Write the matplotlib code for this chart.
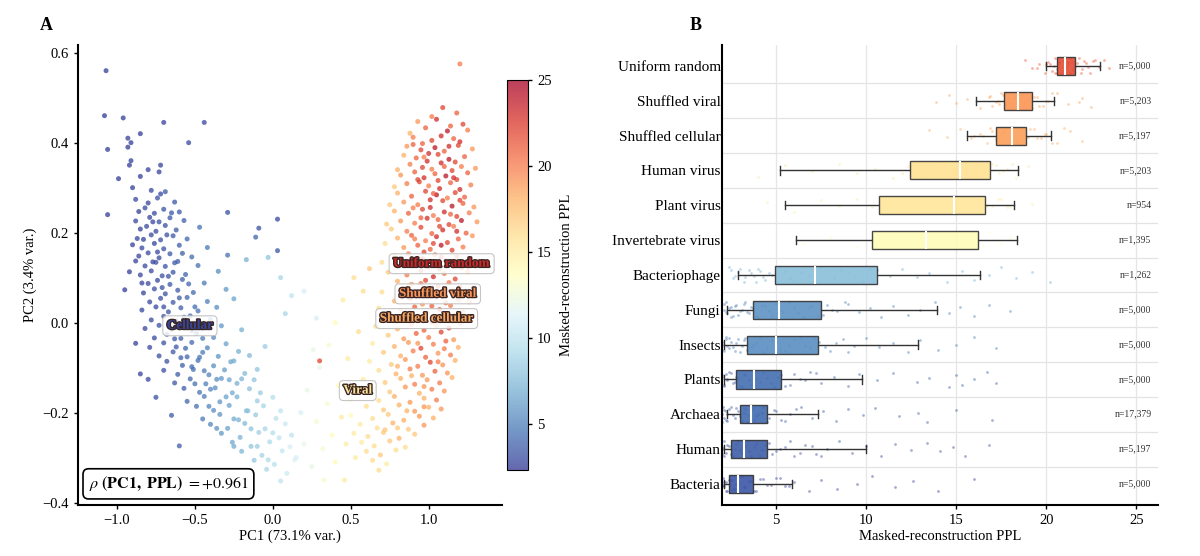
import matplotlib
matplotlib.use("Agg")
import matplotlib.pyplot as plt
import matplotlib.patheffects as pe
from matplotlib.colors import Normalize
import numpy as np

plt.rcParams['font.family'] = ['Liberation Serif', 'DejaVu Serif']
plt.rcParams['mathtext.fontset'] = 'stix'

# ---------------- panel A data: (PC1, PC2, PPL)
outlier_points = [
    (-1.07, 0.56, 2.6), (-1.08, 0.46, 2.5), (-0.96, 0.455, 2.6), (-0.70, 0.445, 2.7),
    (-0.44, 0.445, 3.0), (-0.85, 0.42, 2.6), (-0.93, 0.41, 2.7), (-0.91, 0.40, 2.6),
    (-0.54, 0.40, 3.0), (-0.93, 0.39, 2.6), (-1.06, 0.385, 2.5), (-0.91, 0.36, 2.7),
    (-0.92, 0.35, 2.6), (-0.72, 0.35, 2.8), (-0.80, 0.34, 2.7), (-0.73, 0.335, 2.8),
    (-0.85, 0.325, 2.6), (-0.99, 0.32, 2.5), (-0.90, 0.30, 2.6), (-0.29, 0.245, 3.2),
    (-1.06, 0.24, 2.5), (0.03, 0.23, 3.0), (-0.09, 0.21, 3.3), (-0.11, 0.19, 4.0),
    (0.03, 0.16, 3.5), (-0.29, 0.15, 4.5), (-0.03, 0.145, 8.0), (-0.17, 0.14, 7.0),
]

cellular_points = [
    (-0.78, 0.294, 3.0), (-0.72, 0.286, 3.0), (-0.69, 0.291, 3.5),
    (-0.88, 0.274, 3.0), (-0.80, 0.266, 2.8), (-0.74, 0.277, 3.2), (-0.63, 0.268, 3.5),
    (-0.86, 0.247, 2.6), (-0.82, 0.255, 3.0), (-0.76, 0.243, 3.0), (-0.70, 0.252, 3.3), (-0.60, 0.246, 3.6),
    (-0.88, 0.226, 3.0), (-0.79, 0.234, 2.8), (-0.73, 0.224, 3.1), (-0.66, 0.233, 3.4), (-0.57, 0.227, 3.8),
    (-0.85, 0.208, 2.7), (-0.81, 0.214, 3.0), (-0.75, 0.203, 3.0), (-0.69, 0.216, 3.2), (-0.62, 0.206, 3.6),
    (-0.47, 0.212, 4.5), (-0.87, 0.187, 2.9), (-0.78, 0.195, 3.0), (-0.72, 0.184, 3.1), (-0.64, 0.193, 3.5),
    (-0.55, 0.186, 4.0), (-0.90, 0.173, 2.7), (-0.84, 0.166, 3.0), (-0.76, 0.176, 2.8), (-0.70, 0.164, 3.2),
    (-0.60, 0.172, 3.7), (-0.42, 0.167, 4.8), (-0.86, 0.148, 2.8), (-0.80, 0.155, 3.0), (-0.73, 0.144, 3.0),
    (-0.66, 0.153, 3.4), (-0.52, 0.146, 4.2), (-0.82, 0.126, 3.0), (-0.75, 0.134, 3.1), (-0.69, 0.125, 3.3),
    (-0.61, 0.136, 3.6), (-0.48, 0.127, 4.5), (-0.92, 0.113, 2.6), (-0.85, 0.106, 2.9), (-0.78, 0.115, 3.0),
    (-0.71, 0.104, 3.2), (-0.64, 0.112, 3.4), (-0.56, 0.107, 3.9), (-0.35, 0.114, 5.5), (-0.80, 0.087, 3.0),
    (-0.74, 0.094, 3.0), (-0.66, 0.085, 3.5), (-0.58, 0.096, 3.8), (-0.44, 0.088, 4.8), (-0.95, 0.073, 2.5),
    (-0.83, 0.066, 2.8), (-0.76, 0.075, 3.1), (-0.69, 0.064, 3.3), (-0.61, 0.072, 3.6), (-0.51, 0.067, 4.2),
    (-0.30, 0.074, 6.0), (-0.79, 0.046, 3.0), (-0.72, 0.054, 3.1), (-0.64, 0.045, 3.5), (-0.55, 0.056, 4.0),
    (-0.42, 0.047, 5.0), (-0.25, 0.053, 6.5), (-0.84, 0.028, 2.9), (-0.75, 0.035, 3.0), (-0.67, 0.024, 3.4),
    (-0.59, 0.033, 3.7), (-0.48, 0.026, 4.5), (-0.36, 0.034, 5.5), (-0.78, 0.006, 3.0), (-0.70, 0.014, 3.2),
    (-0.62, 0.004, 3.6), (-0.53, 0.015, 4.1), (-0.40, 0.007, 5.2), (-0.82, -0.013, 2.9), (-0.73, -0.006, 3.1),
    (-0.65, -0.015, 3.4), (-0.56, -0.004, 3.9), (-0.46, -0.014, 4.6), (-0.33, -0.007, 6.0), (-0.20, -0.016, 7.0),
    (-0.76, -0.034, 3.0), (-0.68, -0.026, 3.3), (-0.59, -0.035, 3.7), (-0.49, -0.024, 4.3), (-0.38, -0.033, 5.4),
    (-0.88, -0.046, 2.7), (-0.79, -0.055, 3.0), (-0.70, -0.045, 3.2), (-0.62, -0.054, 3.5), (-0.52, -0.044, 4.1),
    (-0.42, -0.056, 5.0), (-0.30, -0.047, 6.3), (-0.05, -0.053, 8.5), (-0.73, -0.074, 3.1), (-0.64, -0.065, 3.5),
    (-0.55, -0.076, 4.0), (-0.45, -0.066, 4.8), (-0.35, -0.075, 5.8), (-0.22, -0.064, 7.0), (-0.15, -0.073, 7.5),
    (-0.68, -0.086, 3.3), (-0.58, -0.095, 3.8), (-0.48, -0.084, 4.5), (-0.38, -0.096, 5.5), (-0.27, -0.087, 6.5),
    (-0.85, -0.114, 2.8), (-0.70, -0.106, 3.2), (-0.61, -0.115, 3.6), (-0.51, -0.104, 4.3), (-0.41, -0.116, 5.2),
    (-0.31, -0.105, 6.2), (-0.18, -0.113, 7.5), (-0.10, -0.104, 8.0), (-0.80, -0.126, 3.0), (-0.63, -0.134, 3.5),
    (-0.53, -0.125, 4.1), (-0.43, -0.136, 5.0), (-0.33, -0.124, 6.0), (-0.23, -0.135, 7.0), (-0.12, -0.127, 8.0),
    (-0.57, -0.146, 3.8), (-0.47, -0.155, 4.6), (-0.37, -0.145, 5.6), (-0.26, -0.156, 6.7), (-0.15, -0.147, 7.8),
    (-0.75, -0.166, 3.2), (-0.55, -0.175, 4.0), (-0.44, -0.164, 4.9), (-0.34, -0.176, 5.9), (-0.23, -0.165, 7.0),
    (-0.10, -0.174, 8.5), (0.00, -0.166, 9.5), (-0.49, -0.186, 4.4), (-0.38, -0.195, 5.5), (-0.28, -0.184, 6.4),
    (-0.17, -0.196, 7.6), (-0.06, -0.185, 9.0), (-0.65, -0.206, 3.6), (-0.45, -0.214, 4.8), (-0.34, -0.204, 5.9),
    (-0.22, -0.216, 7.1), (-0.11, -0.205, 8.3), (0.02, -0.213, 9.8), (0.05, -0.196, 10.0), (-0.40, -0.226, 5.3),
    (-0.29, -0.235, 6.3), (-0.18, -0.224, 7.5), (-0.05, -0.236, 9.0), (0.08, -0.225, 10.5), (-0.33, -0.246, 6.0),
    (-0.21, -0.255, 7.2), (-0.09, -0.244, 8.6), (0.04, -0.256, 10.0), (-0.60, -0.274, 3.7), (-0.26, -0.266, 6.7),
    (-0.14, -0.275, 8.0), (-0.02, -0.265, 9.3), (0.11, -0.276, 11.0), (-0.20, -0.286, 7.3), (-0.07, -0.295, 8.8),
    (0.06, -0.285, 10.2), (-0.12, -0.306, 8.2), (0.01, -0.315, 9.6), (0.14, -0.305, 11.3), (-0.04, -0.326, 9.1),
    (0.09, -0.335, 10.6), (0.05, -0.352, 10.0),
    (-0.77, 0.224, 2.9), (-0.68, 0.195, 3.2), (-0.83, 0.185, 2.8), (-0.74, 0.157, 3.0), (-0.63, 0.133, 3.5),
    (-0.77, 0.135, 2.9), (-0.67, 0.103, 3.3), (-0.71, 0.078, 3.2), (-0.60, 0.055, 3.7), (-0.70, 0.035, 3.2),
    (-0.57, 0.012, 3.8), (-0.66, -0.005, 3.4), (-0.52, -0.018, 4.2), (-0.63, -0.036, 3.5), (-0.56, -0.057, 4.0),
    (-0.47, -0.077, 4.6), (-0.59, -0.078, 3.8), (-0.52, -0.098, 4.2), (-0.44, -0.107, 4.9), (-0.40, -0.148, 5.3),
    (-0.50, -0.136, 4.4), (-0.30, -0.165, 6.3), (-0.41, -0.186, 5.2), (-0.25, -0.214, 6.8), (-0.36, -0.235, 5.7),
    (-0.14, -0.236, 8.0), (-0.25, -0.275, 6.8), (-0.10, -0.275, 8.5), (-0.03, -0.305, 9.3), (0.00, -0.245, 9.5),
    (-0.16, -0.196, 7.8), (-0.08, -0.156, 8.5), (-0.20, -0.125, 7.3), (-0.36, -0.126, 5.6), (-0.28, -0.127, 6.5),
    (-0.25, -0.085, 6.8), (-0.45, -0.035, 4.8), (-0.50, 0.035, 4.3), (-0.54, 0.086, 4.0), (-0.58, 0.154, 3.8),
    (-0.65, 0.244, 3.4), (-0.84, 0.088, 2.8), (-0.88, 0.137, 2.7),
]

viral_points = [
    (0.62, 0.12, 17.0), (0.05, 0.10, 9.0), (0.52, 0.10, 16.0), (0.20, 0.07, 11.0), (0.58, 0.07, 16.0),
    (0.12, 0.06, 10.0), (0.45, 0.05, 15.0), (0.08, 0.02, 9.0), (0.28, 0.01, 11.0), (0.40, 0.00, 14.0),
    (0.55, -0.02, 16.0), (0.36, -0.05, 13.0), (0.26, -0.06, 12.0), (0.30, -0.085, 22.0), (0.48, -0.08, 15.0),
    (0.30, -0.10, 12.0), (0.42, -0.14, 14.0), (0.22, -0.15, 12.0), (0.50, -0.17, 15.0), (0.35, -0.18, 13.0),
    (0.18, -0.20, 11.0), (0.44, -0.21, 15.0), (0.28, -0.22, 13.0), (0.12, -0.25, 10.0), (0.38, -0.25, 14.0),
    (0.20, -0.27, 12.0), (0.47, -0.27, 15.0), (0.32, -0.28, 13.0), (0.15, -0.30, 11.0), (0.53, -0.30, 15.0),
    (0.40, -0.31, 14.0), (0.25, -0.32, 12.0), (0.33, -0.35, 13.0), (0.46, -0.35, 15.0),
]

random_points = [
    (1.20, 0.575, 20), (1.09, 0.478, 22), (1.18, 0.466, 21), (1.02, 0.458, 20),
    (0.93, 0.447, 19), (1.05, 0.452, 23), (1.22, 0.441, 22), (1.14, 0.437, 21),
    (0.98, 0.433, 21), (1.12, 0.426, 24), (1.25, 0.428, 20), (0.88, 0.421, 18),
    (0.90, 0.412, 20), (1.02, 0.405, 22), (1.08, 0.415, 23), (1.16, 0.409, 21), (1.20, 0.402, 23), (0.96, 0.398, 21),
    (0.86, 0.392, 19), (0.95, 0.384, 22), (1.04, 0.389, 24), (1.10, 0.381, 21), (1.19, 0.394, 22), (1.28, 0.386, 19),
    (1.00, 0.376, 23), (0.84, 0.372, 18), (0.92, 0.366, 21), (0.99, 0.359, 23), (1.06, 0.374, 22), (1.13, 0.363, 24),
    (1.23, 0.369, 21), (1.17, 0.357, 22), (0.88, 0.352, 20), (0.96, 0.345, 22), (1.02, 0.341, 20), (1.08, 0.355, 23),
    (1.15, 0.338, 22), (1.21, 0.347, 20), (1.30, 0.343, 19), (0.80, 0.340, 18), (0.82, 0.328, 19), (0.91, 0.335, 21),
    (0.97, 0.322, 23), (1.04, 0.331, 21), (1.11, 0.326, 24), (1.18, 0.318, 22), (1.25, 0.333, 21), (1.06, 0.316, 22),
    (0.86, 0.309, 20), (0.94, 0.313, 22), (1.00, 0.304, 20), (1.07, 0.298, 23), (1.14, 0.311, 21), (1.20, 0.296, 23),
    (1.27, 0.306, 20), (0.78, 0.302, 17), (0.80, 0.288, 18), (0.89, 0.281, 21), (0.98, 0.292, 22), (1.05, 0.284, 24),
    (1.12, 0.277, 20), (1.17, 0.289, 22), (1.23, 0.279, 21), (1.01, 0.273, 23), (0.84, 0.268, 19), (0.93, 0.262, 20),
    (1.01, 0.256, 23), (1.09, 0.271, 22), (1.15, 0.259, 24), (1.22, 0.265, 21), (1.29, 0.257, 19), (0.75, 0.262, 17),
    (0.78, 0.248, 18), (0.87, 0.243, 21), (0.96, 0.252, 22), (1.03, 0.238, 20), (1.10, 0.246, 23), (1.18, 0.236, 22),
    (1.26, 0.244, 20), (1.06, 0.229, 21), (0.82, 0.226, 19), (0.91, 0.221, 20), (0.99, 0.232, 23), (1.13, 0.218, 22),
    (1.21, 0.227, 24), (0.73, 0.219, 17), (1.31, 0.224, 19), (0.76, 0.208, 17), (0.86, 0.203, 20), (0.95, 0.212, 22),
    (1.02, 0.198, 21), (1.09, 0.206, 23), (1.16, 0.214, 20), (1.24, 0.199, 21), (0.80, 0.188, 18), (0.89, 0.194, 21),
    (0.98, 0.182, 20), (1.05, 0.191, 23), (1.12, 0.178, 22), (1.19, 0.186, 21), (1.28, 0.193, 19), (0.93, 0.172, 21),
    (0.84, 0.167, 19), (1.01, 0.163, 21), (1.08, 0.172, 24), (1.15, 0.161, 22), (1.22, 0.168, 20), (0.72, 0.176, 16),
    (0.97, 0.157, 22), (0.78, 0.148, 18), (0.87, 0.153, 20), (0.96, 0.142, 23), (1.04, 0.151, 20), (1.11, 0.138, 22),
    (1.18, 0.147, 21), (1.26, 0.141, 20), (0.82, 0.128, 19), (0.91, 0.133, 21), (1.00, 0.124, 22), (1.07, 0.119, 21),
    (1.14, 0.131, 23), (1.21, 0.122, 21), (0.70, 0.134, 16), (0.74, 0.112, 17), (0.86, 0.106, 20), (0.95, 0.115, 21),
    (1.03, 0.102, 23), (1.10, 0.109, 20), (1.17, 0.097, 22), (1.25, 0.113, 19), (0.80, 0.092, 18), (0.89, 0.085, 19),
    (0.98, 0.094, 22), (1.06, 0.081, 21), (1.13, 0.089, 20), (1.20, 0.078, 22), (0.70, 0.068, 16), (0.84, 0.074, 19),
    (0.93, 0.063, 21), (1.01, 0.072, 20), (1.08, 0.059, 22), (1.16, 0.066, 21), (0.78, 0.048, 18), (0.88, 0.053, 20),
    (0.96, 0.041, 19), (1.04, 0.057, 22), (1.11, 0.044, 21), (1.19, 0.051, 20), (1.26, 0.046, 18), (0.68, 0.032, 16),
    (0.82, 0.026, 18), (0.91, 0.035, 21), (0.99, 0.021, 19), (1.07, 0.029, 22), (1.14, 0.038, 20), (1.22, 0.024, 19),
    (0.76, 0.012, 17), (0.86, 0.004, 19), (0.94, 0.015, 20), (1.02, 0.001, 22), (1.10, 0.009, 19), (1.17, 0.017, 21),
    (0.66, -0.008, 16), (0.80, -0.014, 18), (0.89, -0.004, 20), (0.97, -0.017, 21), (1.05, -0.006, 19), (1.13, -0.012, 22),
    (1.20, -0.002, 20), (0.74, -0.028, 17), (0.84, -0.036, 19), (0.92, -0.024, 21), (1.00, -0.033, 20), (1.08, -0.021, 22),
    (1.16, -0.038, 19), (0.64, -0.046, 15), (0.78, -0.053, 18), (0.87, -0.044, 19), (0.95, -0.057, 22), (1.03, -0.048, 20),
    (1.11, -0.041, 21), (1.19, -0.055, 18), (0.71, -0.066, 17), (0.82, -0.074, 18), (0.90, -0.063, 20), (0.98, -0.077, 21),
    (1.06, -0.068, 19), (1.14, -0.072, 20), (0.62, -0.086, 15), (0.76, -0.093, 17), (0.85, -0.082, 19), (0.93, -0.097, 20),
    (1.01, -0.088, 22), (1.09, -0.094, 19), (1.17, -0.084, 18), (0.68, -0.106, 16), (0.79, -0.114, 18), (0.88, -0.103, 20),
    (0.96, -0.117, 19), (1.04, -0.108, 21), (1.12, -0.112, 19), (0.58, -0.126, 15), (0.72, -0.133, 17), (0.82, -0.124, 18),
    (0.91, -0.137, 20), (0.99, -0.127, 19), (1.07, -0.134, 20), (1.15, -0.122, 18), (0.64, -0.146, 16), (0.75, -0.154, 17),
    (0.85, -0.143, 19), (0.94, -0.157, 18), (1.02, -0.148, 20), (1.10, -0.152, 19), (0.54, -0.166, 14), (0.68, -0.173, 16),
    (0.78, -0.164, 18), (0.88, -0.177, 19), (0.97, -0.168, 18), (1.05, -0.172, 20), (0.60, -0.186, 16), (0.71, -0.194, 17),
    (0.81, -0.183, 18), (0.91, -0.197, 19), (1.00, -0.188, 18), (1.08, -0.192, 19), (0.50, -0.206, 14), (0.64, -0.213, 16),
    (0.74, -0.204, 17), (0.84, -0.217, 18), (0.94, -0.208, 19), (1.03, -0.212, 18), (0.56, -0.226, 15), (0.67, -0.234, 16),
    (0.77, -0.223, 18), (0.87, -0.237, 17), (0.97, -0.228, 19), (0.52, -0.246, 15), (0.61, -0.253, 16), (0.71, -0.244, 17),
    (0.81, -0.257, 18), (0.91, -0.248, 17), (0.57, -0.266, 15), (0.65, -0.274, 16), (0.75, -0.263, 17), (0.85, -0.277, 16),
    (0.60, -0.286, 16), (0.69, -0.294, 17), (0.79, -0.283, 16), (0.64, -0.306, 16), (0.73, -0.314, 15), (0.68, -0.328, 16),
    (0.90, 0.396, 21), (1.13, 0.392, 23), (0.97, 0.368, 20), (1.10, 0.347, 21), (0.93, 0.318, 22), (1.16, 0.322, 23),
    (1.03, 0.287, 21), (1.20, 0.272, 22), (0.90, 0.255, 20), (1.14, 0.241, 21), (0.95, 0.233, 21), (1.07, 0.214, 22),
    (0.91, 0.186, 20), (1.18, 0.203, 23), (1.03, 0.176, 22), (0.89, 0.138, 19), (1.08, 0.146, 22), (0.95, 0.087, 20),
    (1.17, 0.124, 20), (1.02, 0.037, 21), (0.87, 0.016, 19), (1.13, 0.003, 20), (0.93, -0.046, 19), (1.06, -0.087, 20),
    (0.89, -0.118, 18), (1.10, -0.058, 20), (0.80, -0.097, 18), (0.97, -0.142, 19), (0.86, -0.196, 18), (0.72, -0.238, 17),
    (0.97, -0.187, 19), (0.80, -0.234, 17),
]

cluster_names = ["Uniform random", "Shuffled viral", "Shuffled cellular", "Cellular", "Viral"]
cluster_pc1 = [1.083, 1.058, 0.987, -0.532, 0.545]
cluster_pc2 = [0.131, 0.064, 0.009, -0.007, -0.151]
cluster_ppl = [23.0, 19.0, 18.3, 3.0, 15.5]
rho_text = r'$\rho\ \mathbf{(PC1,\ PPL)}\ = +0.961$'

# ---------------- panel B data (top to bottom)
groups = ["Uniform random", "Shuffled viral", "Shuffled cellular", "Human virus",
          "Plant virus", "Invertebrate virus", "Bacteriophage", "Fungi", "Insects",
          "Plants", "Archaea", "Human", "Bacteria"]
n_labels = ["n=5,000", "n=5,203", "n=5,197", "n=5,203", "n=954", "n=1,395",
            "n=1,262", "n=5,000", "n=5,000", "n=5,000", "n=17,379", "n=5,197", "n=5,000"]
whislo = [20.0, 16.1, 15.6, 5.2, 5.5, 6.1, 2.9, 2.3, 2.1, 2.1, 2.3, 2.1, 2.1]
q1 = [20.6, 17.65, 17.2, 12.45, 10.7, 10.3, 4.96, 3.7, 3.4, 2.8, 3.0, 2.5, 2.4]
med = [21.06, 18.45, 18.1, 15.2, 14.9, 13.3, 7.15, 5.17, 5.0, 3.8, 3.6, 3.2, 2.9]
q3 = [21.6, 19.2, 18.9, 16.9, 16.6, 16.2, 10.6, 7.5, 7.35, 5.25, 4.5, 4.5, 3.7]
whishi = [23.0, 20.45, 20.25, 18.45, 18.2, 18.4, 16.3, 13.95, 12.9, 9.75, 7.3, 10.0, 5.9]

strip_values = [
    [18.8, 19.2, 19.6, 19.9, 20.1, 20.3, 20.4, 20.5, 20.6, 20.7, 20.8, 20.9, 21.0, 21.0,
     21.1, 21.2, 21.3, 21.4, 21.5, 21.6, 21.8, 22.0, 22.2, 22.4, 22.6, 22.9, 23.2, 23.5,
     20.2, 20.5, 20.7, 20.9, 21.1, 21.3, 21.5, 21.7, 21.9, 22.1, 22.3, 22.7, 19.5, 20.0, 20.6, 21.2],
    [13.9, 14.6, 15.0, 15.6, 16.3, 16.8, 17.0, 17.3, 17.5, 17.7, 17.9, 18.1, 18.3, 18.4,
     18.6, 18.8, 19.0, 19.2, 19.5, 19.8, 20.1, 20.6, 21.2, 22.0, 22.5,
     16.9, 17.2, 17.6, 18.0, 18.5, 18.9, 19.3, 19.6, 20.0, 20.3, 17.4, 18.2, 18.7, 19.1, 21.8],
    [13.5, 14.5, 15.2, 15.8, 16.3, 16.7, 17.0, 17.3, 17.5, 17.8, 18.0, 18.2, 18.4, 18.7,
     19.0, 19.3, 19.7, 20.0, 20.6, 21.3, 22.0,
     16.5, 16.9, 17.2, 17.6, 18.1, 18.5, 18.9, 19.1, 19.5, 19.9, 20.3, 17.7, 18.3, 16.0, 21.0],
    [4.0, 5.5, 7.0, 8.5, 9.5, 10.5, 11.5, 12.3, 13.0, 13.6, 14.2, 14.8, 15.3, 15.8, 16.2,
     16.6, 17.0, 17.4, 17.8, 18.3, 19.0, 13.3, 14.5, 15.5, 16.0, 16.4, 16.8, 17.2, 17.6, 18.1, 12.0],
    [4.5, 6.0, 7.5, 8.5, 9.5, 10.3, 11.0, 11.8, 12.5, 13.2, 13.8, 14.5, 15.0, 15.6, 16.1,
     16.5, 17.0, 17.5, 18.0, 19.2, 10.8, 11.4, 12.2, 13.5, 14.2, 14.8, 15.3, 15.9, 16.3, 16.7, 17.3, 17.8],
    [6.5, 8.0, 9.5, 10.5, 11.2, 12.0, 12.8, 13.5, 14.2, 15.0, 15.6, 16.2, 16.8, 17.5, 18.0,
     10.8, 11.6, 12.4, 13.1, 13.8, 14.6, 15.3, 15.9, 16.5, 17.2],
    [2.4, 2.6, 2.9, 3.2, 3.5, 3.8, 4.0, 4.3, 4.6, 5.0, 5.5, 6.0, 6.8, 7.5, 8.2, 9.0, 9.8,
     10.6, 11.3, 12.0, 12.8, 13.5, 14.5, 15.3, 16.0, 16.8, 17.5, 18.3, 19.2, 20.2,
     2.5, 2.7, 3.0, 3.3, 3.6, 3.9, 4.1, 4.4, 4.8, 5.2, 5.8, 6.4, 7.1, 8.6, 9.4, 10.2],
    [2.1, 2.2, 2.3, 2.5, 2.6, 2.8, 3.0, 3.2, 3.4, 3.7, 4.0, 4.4, 4.8, 5.2, 5.7, 6.2, 6.8,
     7.3, 7.8, 8.4, 9.0, 9.6, 10.2, 10.8, 11.5, 12.3, 13.0, 13.8, 14.6, 15.2, 16.0, 16.8, 18.0,
     2.1, 2.2, 2.4, 2.5, 2.7, 2.9, 3.1, 3.3, 3.5, 3.6, 3.9, 4.2, 4.6, 5.0, 5.4, 6.0, 6.5, 7.0, 7.6, 8.1, 8.8],
    [2.0, 2.1, 2.2, 2.4, 2.5, 2.7, 2.9, 3.1, 3.3, 3.6, 3.9, 4.3, 4.8, 5.2, 5.7, 6.3, 6.9,
     7.4, 8.0, 8.7, 9.3, 10.0, 10.7, 11.5, 12.3, 13.0, 14.0, 15.0, 16.0, 17.2,
     2.0, 2.1, 2.2, 2.3, 2.4, 2.6, 2.8, 3.0, 3.2, 3.4, 3.7, 4.1, 4.5, 5.0, 5.5, 6.0, 6.6, 7.1, 7.7, 8.3, 9.0],
    [2.0, 2.1, 2.3, 2.4, 2.6, 2.8, 3.0, 3.2, 3.5, 3.8, 4.1, 4.5, 4.9, 5.3, 5.8, 6.3, 6.9,
     7.5, 8.2, 9.0, 9.6, 10.6, 11.5, 12.8, 13.5, 14.6, 15.0, 15.3, 16.0, 16.7, 17.2,
     2.0, 2.1, 2.2, 2.3, 2.5, 2.7, 2.9, 3.1, 3.3, 3.6, 3.9, 4.3, 4.7, 5.1, 5.5, 6.0, 6.6, 7.2],
    [2.0, 2.1, 2.2, 2.3, 2.5, 2.7, 2.9, 3.1, 3.3, 3.5, 3.7, 3.9, 4.2, 4.5, 4.9, 5.3, 5.8,
     6.4, 7.0, 7.6, 8.3, 9.0, 9.8, 10.5, 11.8, 12.9, 13.4, 15.0, 17.0,
     2.0, 2.05, 2.1, 2.2, 2.3, 2.4, 2.6, 2.8, 3.0, 3.2, 3.4, 3.6, 3.8, 4.0, 4.3, 4.6, 5.0, 5.5, 6.1],
    [2.0, 2.1, 2.3, 2.5, 2.7, 2.9, 3.1, 3.3, 3.6, 3.9, 4.2, 4.6, 5.0, 5.5, 6.0, 6.6, 7.2,
     7.8, 8.5, 9.2, 10.0, 10.8, 11.6, 12.5, 13.4, 14.1, 14.8, 15.5, 16.8,
     2.0, 2.05, 2.1, 2.2, 2.4, 2.6, 2.8, 3.0, 3.2, 3.5, 3.8, 4.1, 4.4, 4.8, 5.2, 5.8, 6.3, 7.0, 7.5],
    [2.0, 2.1, 2.2, 2.4, 2.6, 2.8, 3.0, 3.2, 3.5, 3.8, 4.1, 4.5, 5.0, 5.5, 6.0, 6.8, 7.5,
     8.4, 9.5, 10.3, 11.6, 12.6, 14.0, 16.0,
     2.0, 2.05, 2.1, 2.2, 2.3, 2.5, 2.7, 2.9, 3.1, 3.3, 3.6, 3.9, 4.3, 4.7, 5.2, 5.7],
]

# ---------------------------------------------------------------------------
cmap = plt.get_cmap('RdYlBu_r')
norm = Normalize(vmin=2.3, vmax=25)

all_points = outlier_points + cellular_points + viral_points + random_points
pc1 = [p[0] for p in all_points]
pc2 = [p[1] for p in all_points]
ppl = [p[2] for p in all_points]

fig = plt.figure(figsize=(12, 5.56), dpi=100, facecolor='white')

# ---------------- panel A
axA = fig.add_axes([0.065, 0.092, 0.3533, 0.827])
sc = axA.scatter(pc1, pc2, c=ppl, cmap=cmap, norm=norm, s=13, alpha=0.75, linewidths=0)
axA.set_xlim(-1.25, 1.47)
axA.set_ylim(-0.405, 0.617)
axA.set_xticks([-1.0, -0.5, 0.0, 0.5, 1.0])
axA.set_yticks([-0.4, -0.2, 0.0, 0.2, 0.4, 0.6])
axA.set_xlabel('PC1 (73.1% var.)', fontsize=10.5, labelpad=2)
axA.set_ylabel('PC2 (3.4% var.)', fontsize=10.5, labelpad=4)
axA.tick_params(labelsize=10.5, width=1, length=3)
for s in ('top', 'right'):
    axA.spines[s].set_visible(False)
for s in ('left', 'bottom'):
    axA.spines[s].set_linewidth(1.5)

for name, x, y, v in zip(cluster_names, cluster_pc1, cluster_pc2, cluster_ppl):
    axA.text(x, y, name, ha='center', va='center', fontsize=9.5, fontweight='bold',
             color=cmap(norm(v)),
             path_effects=[pe.withStroke(linewidth=2.0, foreground='#3a2525')],
             bbox=dict(boxstyle='round,pad=0.3', fc='white', ec='#bbbbbb', lw=0.8, alpha=0.85))

axA.text(0.025, 0.025, rho_text, transform=axA.transAxes, fontsize=11.5, ha='left', va='bottom',
         bbox=dict(boxstyle='round,pad=0.35', fc='white', ec='black', lw=1.2))

cax = fig.add_axes([0.4225, 0.1547, 0.0175, 0.701])
cb = fig.colorbar(sc, cax=cax)
cb.set_ticks([5, 10, 15, 20, 25])
cb.ax.tick_params(labelsize=10.5, width=1, length=3)
cb.set_label('Masked-reconstruction PPL', fontsize=10.5, labelpad=6)
cb.outline.set_linewidth(0.8)

# ---------------- panel B
axB = fig.add_axes([0.6017, 0.092, 0.3633, 0.827])
ypos = np.arange(len(groups))
jitter = np.array([-0.18, 0.06, -0.05, 0.21, -0.12, 0.15, 0.0, -0.22, 0.1, -0.08, 0.19, -0.15, 0.03])

for i, vals in enumerate(strip_values):
    col = cmap(norm(med[i]))
    offs = np.resize(np.roll(jitter, i), len(vals))
    axB.scatter(vals, ypos[i] + offs, s=4, color=col, alpha=0.45, linewidths=0, zorder=1)

stats = []
for i in range(len(groups)):
    stats.append(dict(med=med[i], q1=q1[i], q3=q3[i], whislo=whislo[i], whishi=whishi[i],
                      fliers=[], label=groups[i]))
bp = axB.bxp(stats, positions=ypos, widths=0.52, orientation='horizontal', patch_artist=True,
             showfliers=False, capwidths=0.24,
             boxprops=dict(edgecolor='#333333', linewidth=1.0),
             whiskerprops=dict(color='#333333', linewidth=1.0),
             capprops=dict(color='#333333', linewidth=1.0),
             medianprops=dict(color='white', linewidth=1.5))
for i, box in enumerate(bp['boxes']):
    box.set_facecolor(cmap(norm(med[i] + 0.6)))
    box.set_alpha(0.9)
    box.set_edgecolor('#333333')
    box.set_zorder(3)
for m in bp['medians']:
    m.set_zorder(4)

for y in ypos[:-1]:
    axB.axhline(y + 0.5, color='#e3e3e3', lw=0.9, zorder=0)
axB.set_xlim(2.0, 26.2)
axB.set_ylim(len(groups) - 0.4, -0.6)
axB.set_xticks([5, 10, 15, 20, 25])
axB.xaxis.grid(True, color='#e6e6e6', lw=0.9, zorder=0)
axB.set_axisbelow(True)
axB.set_yticks(ypos)
axB.set_yticklabels(groups)
axB.tick_params(axis='y', length=0, labelsize=11, pad=1)
axB.tick_params(axis='x', labelsize=10.5, width=1, length=3)
axB.set_xlabel('Masked-reconstruction PPL', fontsize=10.5, labelpad=2)
for s in ('top', 'right'):
    axB.spines[s].set_visible(False)
for s in ('left', 'bottom'):
    axB.spines[s].set_linewidth(1.5)

for i, lab in enumerate(n_labels):
    axB.text(0.985, ypos[i], lab, transform=axB.get_yaxis_transform(), ha='right',
             va='center', fontsize=7, color='#333333')

fig.text(0.033, 0.955, 'A', fontsize=13, fontweight='bold', ha='left', va='center')
fig.text(0.575, 0.955, 'B', fontsize=13, fontweight='bold', ha='left', va='center')

fig.savefig('out.png', dpi=100, facecolor='white')
